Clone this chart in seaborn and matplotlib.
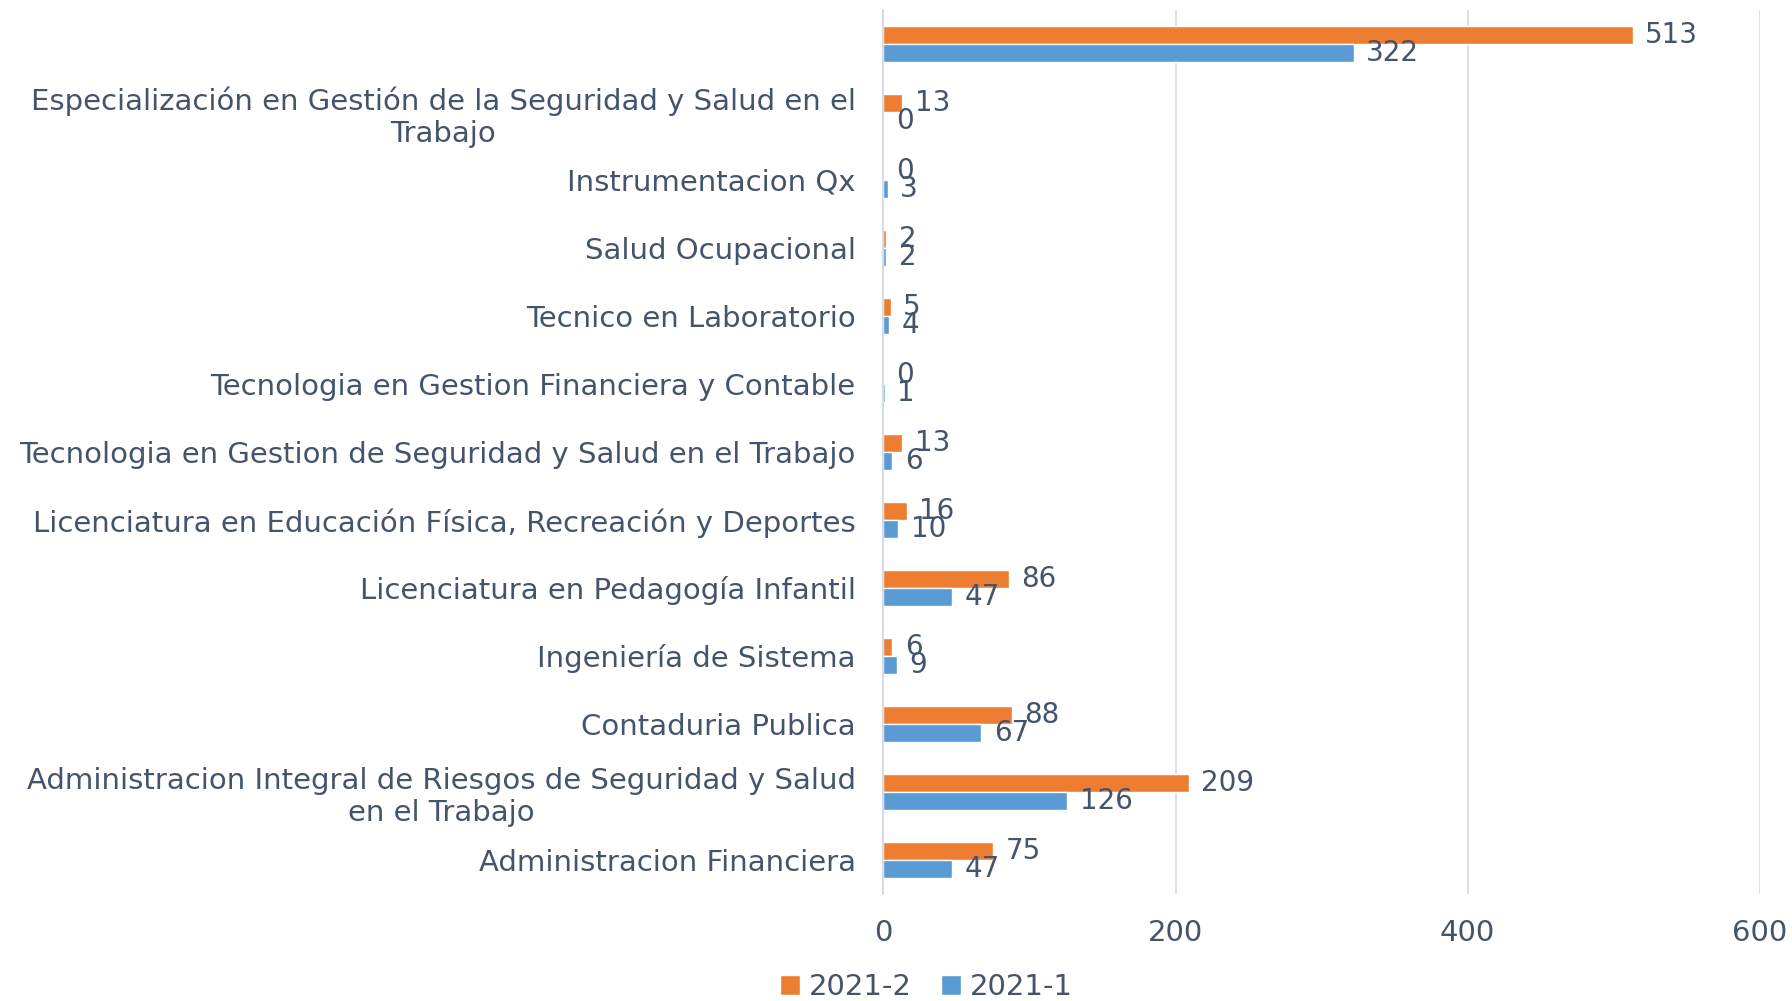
import matplotlib
matplotlib.use("Agg")
import matplotlib.pyplot as plt
import pandas as pd
import seaborn as sns

programas = [
    "",
    "Especialización en Gestión de la Seguridad y Salud en el\nTrabajo",
    "Instrumentacion Qx",
    "Salud Ocupacional",
    "Tecnico en Laboratorio",
    "Tecnologia en Gestion Financiera y Contable",
    "Tecnologia en Gestion de Seguridad y Salud en el Trabajo",
    "Licenciatura en Educación Física, Recreación y Deportes",
    "Licenciatura en Pedagogía Infantil",
    "Ingeniería de Sistema",
    "Contaduria Publica",
    "Administracion Integral de Riesgos de Seguridad y Salud\nen el Trabajo",
    "Administracion Financiera",
]
valores_2021_2 = [513, 13, 0, 2, 5, 0, 13, 16, 86, 6, 88, 209, 75]
valores_2021_1 = [322, 0, 3, 2, 4, 1, 6, 10, 47, 9, 67, 126, 47]
periodos = ["2021-2", "2021-1"]
colores = ["#ED7D31", "#5B9BD5"]
x_ticks = [0, 200, 400, 600]

TEXT = "#44546A"

df = pd.DataFrame({
    "programa": programas * 2,
    "periodo": ["2021-2"] * len(programas) + ["2021-1"] * len(programas),
    "valor": valores_2021_2 + valores_2021_1,
})

sns.set_style("white")
plt.rcParams["font.family"] = ["DejaVu Sans"]

fig = plt.figure(figsize=(17.92, 10.01), dpi=100)
ax = fig.add_axes([0.493, 0.107, 0.489, 0.883])

sns.barplot(data=df, y="programa", x="valor", hue="periodo", order=programas,
            hue_order=periodos, palette=colores, width=0.53, ax=ax,
            orient="h", saturation=1, errorbar=None)

for cont in ax.containers:
    ax.bar_label(cont, padding=9, fontsize=20, color=TEXT)

ax.set_xlim(0, 600)
ax.set_xticks(x_ticks)
ax.set_xlabel("")
ax.set_ylabel("")
ax.xaxis.grid(True, color="#D9D9D9", linewidth=1.2)
ax.set_axisbelow(True)
for side in ["top", "right", "bottom"]:
    ax.spines[side].set_visible(False)
ax.spines["left"].set_color("#D6DCE5")
ax.spines["left"].set_linewidth(1.5)
ax.tick_params(axis="both", length=0, labelsize=21, labelcolor=TEXT)
ax.tick_params(axis="y", pad=20)
ax.tick_params(axis="x", pad=18)
for lbl in ax.get_yticklabels():
    lbl.set_multialignment("center")

handles, labels = ax.get_legend_handles_labels()
ax.legend_.remove()
fig.legend(handles, labels, loc="lower center", bbox_to_anchor=(0.517, -0.006),
           ncol=2, frameon=False, fontsize=21, handlelength=0.7, handleheight=0.7,
           handletextpad=0.3, columnspacing=1.0, labelcolor=TEXT,
           borderaxespad=0.0, borderpad=0.2)

fig.savefig("out.png", dpi=100)
